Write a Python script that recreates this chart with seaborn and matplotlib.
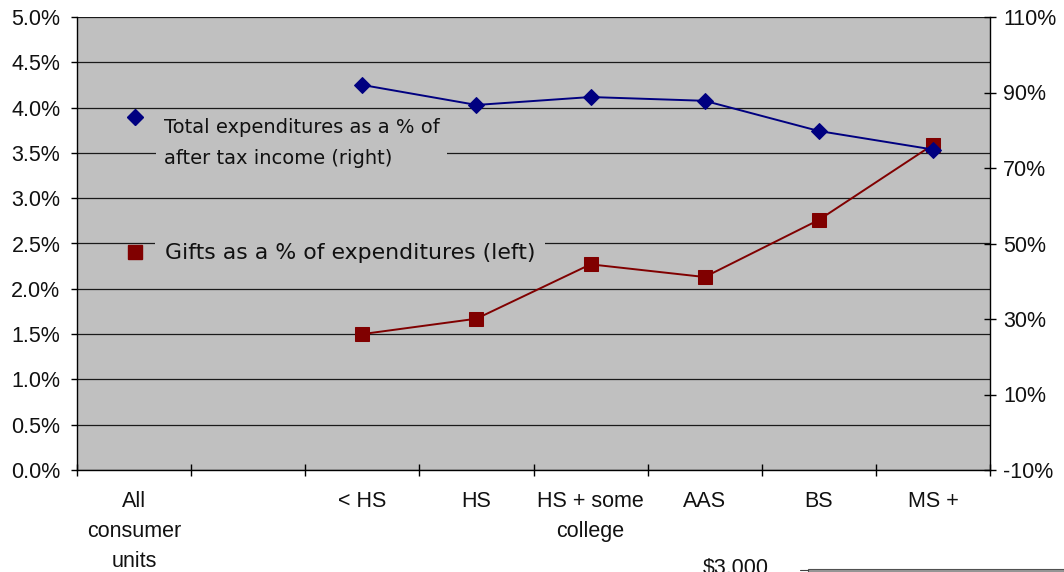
import numpy as np
import pandas as pd
import matplotlib
matplotlib.use("Agg")
import matplotlib.pyplot as plt
import seaborn as sns
from matplotlib.lines import Line2D
from matplotlib.legend_handler import HandlerLine2D
from matplotlib.patches import Rectangle
from matplotlib.ticker import FixedLocator, FuncFormatter

# ---- data -------------------------------------------------------------
categories = ["All\nconsumer\nunits", "", "< HS", "HS", "HS + some\ncollege",
              "AAS", "BS", "MS +"]
gifts_pct_of_exp = [np.nan, np.nan, 1.50, 1.67, 2.27, 2.13, 2.76, 3.59]      # left axis
total_exp_pct_income = [np.nan, np.nan, 92.0, 86.7, 88.8, 87.8, 79.8, 74.9]  # right axis
left_ticks = [0.0, 0.5, 1.0, 1.5, 2.0, 2.5, 3.0, 3.5, 4.0, 4.5, 5.0]
right_ticks = [-10, 10, 30, 50, 70, 90, 110]

gifts_label = "Gifts as a % of expenditures (left)"
total_label = "Total expenditures as a % of\nafter tax income (right)"

NAVY = "#000080"
MAROON = "#800000"
PLOT_BG = "#C0C0C0"

sns.set_theme(style="white")
plt.rcParams["font.family"] = ["Liberation Sans", "DejaVu Sans"]

df = pd.DataFrame({
    "pos": np.arange(len(categories)),
    "gifts": gifts_pct_of_exp,
    "total": total_exp_pct_income,
})

W, H = 1064, 572
fig = plt.figure(figsize=(W / 100, H / 100), dpi=100)
fig.patch.set_facecolor("white")
ax = fig.add_axes([77 / W, 1 - 470 / H, (990 - 77) / W, (470 - 17) / H])
ax.set_facecolor(PLOT_BG)
ax2 = ax.twinx()

# ---- series ------------------------------------------------------------
sns.lineplot(data=df, x="pos", y="gifts", ax=ax, color=MAROON, linewidth=1.4,
             marker="s", markersize=10, markeredgecolor=MAROON, legend=False)
sns.lineplot(data=df, x="pos", y="total", ax=ax2, color=NAVY, linewidth=1.4,
             marker="D", markersize=8.5, markeredgecolor=NAVY, legend=False)

# ---- axes --------------------------------------------------------------
ax.set_xlim(-0.5, len(categories) - 0.5)
ax.set_ylim(0, 5)
ax2.set_ylim(-10, 110)

ax.yaxis.set_major_locator(FixedLocator(left_ticks))
ax.yaxis.set_major_formatter(FuncFormatter(lambda v, _: f"{v:.1f}%"))
ax2.yaxis.set_major_locator(FixedLocator(right_ticks))
ax2.yaxis.set_major_formatter(FuncFormatter(lambda v, _: f"{v:.0f}%"))

ax.xaxis.set_major_locator(FixedLocator(list(range(len(categories)))))
ax.set_xticklabels(categories, linespacing=1.58, va="top")
ax.xaxis.set_minor_locator(FixedLocator(list(np.arange(-0.5, len(categories), 1.0))))

for a in (ax, ax2):
    a.set_xlabel("")
    a.set_ylabel("")
    for s in a.spines.values():
        s.set_visible(False)

ax.spines["left"].set_visible(True)
ax.spines["bottom"].set_visible(True)
ax2.spines["right"].set_visible(True)
for s in (ax.spines["left"], ax.spines["bottom"], ax2.spines["right"]):
    s.set_color("black")
    s.set_linewidth(1.0)

ax.grid(False)
ax2.grid(False)
ax.yaxis.grid(True, color="#1a1a1a", linewidth=0.9)

tick_font = 15.5
ax.tick_params(axis="y", which="major", direction="out", length=4, width=1,
               color="black", labelsize=tick_font, pad=8, left=True,
               labelcolor="#111111")
ax.tick_params(axis="x", which="major", length=0, labelsize=tick_font, pad=15,
               labelcolor="#111111")
ax.tick_params(axis="x", which="minor", direction="inout", length=9, width=1,
               color="black", bottom=True)
ax2.tick_params(axis="y", which="major", direction="inout", length=9, width=1,
                color="black", labelsize=tick_font, pad=5, right=True,
                labelcolor="#111111")


# ---- legends -----------------------------------------------------------
class OffsetMarkerHandler(HandlerLine2D):
    """Line2D legend handler that shifts the key vertically (points)."""

    def __init__(self, dy=0.0, **kw):
        super().__init__(**kw)
        self.dy = dy

    def create_artists(self, legend, orig_handle, xdescent, ydescent, width,
                       height, fontsize, trans):
        arts = super().create_artists(legend, orig_handle, xdescent, ydescent,
                                      width, height, fontsize, trans)
        for a in arts:
            a.set_ydata(np.asarray(a.get_ydata(), dtype=float) + self.dy)
        return arts


def px(x, y):
    return (x / W, 1 - y / H)


total_key = Line2D([], [], color=NAVY, marker="D", markersize=8.5, linestyle="none")
gifts_key = Line2D([], [], color=MAROON, marker="s", markersize=10, linestyle="none")

fs1 = 14.0
leg1 = ax2.legend([total_key], [total_label], loc="upper left",
                  bbox_to_anchor=px(125, 118), bbox_transform=fig.transFigure,
                  frameon=False, borderpad=0, borderaxespad=0,
                  handlelength=1.0, handletextpad=1.0,
                  prop={"family": "DejaVu Sans", "size": fs1},
                  handler_map={total_key: OffsetMarkerHandler(dy=19.5)})
for t in leg1.get_texts():
    t.set_linespacing(1.8)
    t.set_color("#111111")
    t.set_bbox(dict(boxstyle="square,pad=0.4", fc=PLOT_BG, ec="none"))
ax2.add_artist(leg1)

fs2 = 15.8
leg2 = ax2.legend([gifts_key], [gifts_label], loc="upper left",
                  bbox_to_anchor=px(124, 243.5), bbox_transform=fig.transFigure,
                  frameon=False, borderpad=0, borderaxespad=0,
                  handlelength=1.0, handletextpad=0.85,
                  prop={"family": "DejaVu Sans", "size": fs2})
for t in leg2.get_texts():
    t.set_color("#111111")
    t.set_bbox(dict(boxstyle="square,pad=0.45", fc=PLOT_BG, ec="none"))

# ---- neighbouring chart edge at the bottom of the page -------------------
fig.text(703 / W, 1 - 558 / H, "$3,000", ha="left", va="top",
         fontsize=tick_font, color="#111111")
fig.add_artist(Rectangle((808 / W, 0), (W - 808) / W, 3.2 / H,
                         transform=fig.transFigure, fc="#9a9a9a",
                         ec="#505050", lw=0.8, clip_on=False))
fig.add_artist(Line2D([800 / W, 808 / W], [1.6 / H, 1.6 / H],
                      transform=fig.transFigure, color="#404040", lw=0.8))

fig.savefig("out.png", dpi=100)
